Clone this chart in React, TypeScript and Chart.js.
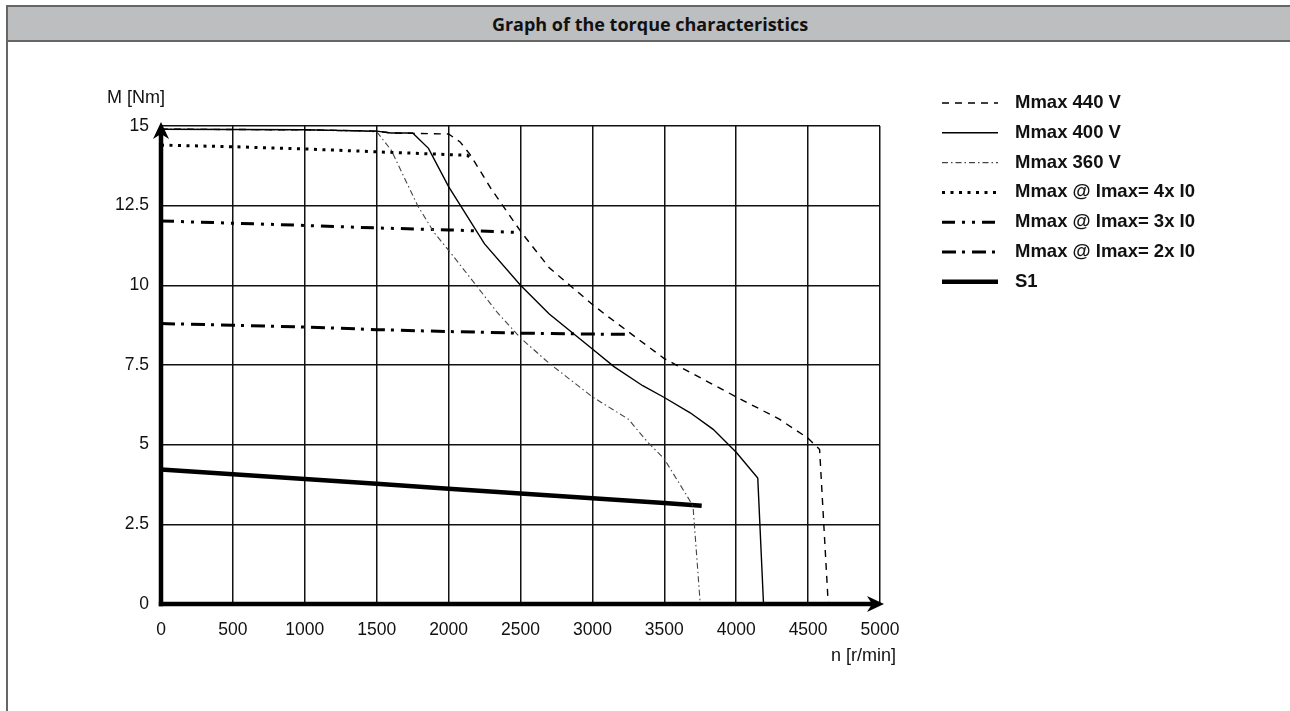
import React, { useEffect, useRef } from "react";
import { Chart, registerables } from "chart.js";

Chart.register(...registerables);

const titleText = "Graph of the torque characteristics";
const yAxisTitle = "M [Nm]";
const xAxisTitle = "n [r/min]";

const xTicks = [0, 500, 1000, 1500, 2000, 2500, 3000, 3500, 4000, 4500, 5000];
const yTicks = [0, 2.5, 5, 7.5, 10, 12.5, 15];

const seriesLabels = [
  "Mmax 440 V",
  "Mmax 400 V",
  "Mmax 360 V",
  "Mmax @ Imax= 4x I0",
  "Mmax @ Imax= 3x I0",
  "Mmax @ Imax= 2x I0",
  "S1",
];

const m440Speed = [0, 1000, 1500, 1600, 2000, 2080, 2150, 2300, 2500, 2700, 3000, 3100, 3500, 4000, 4300, 4500, 4580, 4640];
const m440Torque = [14.9, 14.88, 14.84, 14.78, 14.75, 14.5, 14.1, 13.0, 11.7, 10.55, 9.4, 9.05, 7.7, 6.5, 5.8, 5.2, 4.85, 0];

const m400Speed = [0, 1000, 1500, 1600, 1750, 1860, 2000, 2250, 2500, 2700, 3000, 3150, 3350, 3500, 3680, 3840, 4000, 4150, 4190];
const m400Torque = [14.9, 14.88, 14.84, 14.78, 14.78, 14.3, 13.1, 11.3, 10.0, 9.1, 8.0, 7.45, 6.85, 6.48, 6.0, 5.48, 4.76, 3.95, 0];

const m360Speed = [0, 1000, 1500, 1600, 1785, 1900, 2000, 2200, 2340, 2500, 2700, 3000, 3250, 3380, 3500, 3670, 3700, 3750];
const m360Torque = [14.9, 14.88, 14.82, 14.25, 12.5, 11.65, 11.1, 9.95, 9.14, 8.35, 7.55, 6.5, 5.8, 5.1, 4.55, 3.3, 3.05, 0];

const i4Speed = [0, 500, 1000, 1500, 2130, 2170];
const i4Torque = [14.4, 14.35, 14.28, 14.19, 14.08, 13.93];

const i3Speed = [0, 1000, 1500, 2000, 2480];
const i3Torque = [12.02, 11.88, 11.8, 11.74, 11.66];

const i2Speed = [0, 500, 1000, 1500, 2000, 2500, 3000, 3260];
const i2Torque = [8.8, 8.75, 8.69, 8.61, 8.55, 8.5, 8.47, 8.46];

const s1Speed = [0, 500, 1000, 1500, 2000, 2500, 3000, 3500, 3760];
const s1Torque = [4.22, 4.07, 3.92, 3.77, 3.62, 3.47, 3.32, 3.17, 3.08];

const toPoints = (xs: number[], ys: number[]) => xs.map((x, i) => ({ x, y: ys[i] }));

const TICK_FONT = "Liberation Sans, Arial, Helvetica, sans-serif";

const overlayPlugin = {
  id: "overlay",
  afterDraw(chart: any) {
    const { ctx, chartArea } = chart;
    const { left, right, top, bottom } = chartArea;
    ctx.save();
    ctx.setLineDash([]);
    ctx.strokeStyle = "#000";
    ctx.fillStyle = "#000";
    ctx.lineWidth = 4.5;
    ctx.lineCap = "butt";
    // y axis
    ctx.beginPath();
    ctx.moveTo(left, bottom + 2.2);
    ctx.lineTo(left, top + 6);
    ctx.stroke();
    // x axis
    ctx.beginPath();
    ctx.moveTo(left - 2.2, bottom);
    ctx.lineTo(right - 6, bottom);
    ctx.stroke();
    // arrowheads
    const tipY = top - 4;
    ctx.beginPath();
    ctx.moveTo(left, tipY);
    ctx.lineTo(left + 8, tipY + 17);
    ctx.lineTo(left, tipY + 12);
    ctx.lineTo(left - 8, tipY + 17);
    ctx.closePath();
    ctx.fill();
    const tipX = right + 4;
    ctx.beginPath();
    ctx.moveTo(tipX, bottom);
    ctx.lineTo(tipX - 17, bottom - 8);
    ctx.lineTo(tipX - 12, bottom);
    ctx.lineTo(tipX - 17, bottom + 8);
    ctx.closePath();
    ctx.fill();

    // axis titles
    ctx.font = `18px ${TICK_FONT}`;
    ctx.fillStyle = "#111";
    ctx.textBaseline = "middle";
    ctx.textAlign = "left";
    ctx.fillText(yAxisTitle, left - 54, top - 28);
    ctx.textAlign = "right";
    ctx.fillText(xAxisTitle, right + 16, bottom + 52);

    // legend
    const lx0 = 942;
    const lx1 = 998;
    const tx = 1015;
    const y0 = 103;
    const dy = 29.8;
    ctx.font = `bold 18.5px ${TICK_FONT}`;
    ctx.textAlign = "left";
    chart.data.datasets.forEach((ds: any, i: number) => {
      const y = y0 + i * dy;
      ctx.save();
      ctx.strokeStyle = ds.borderColor;
      ctx.lineWidth = ds.borderWidth;
      ctx.setLineDash(ds.borderDash || []);
      ctx.beginPath();
      ctx.moveTo(lx0, y);
      ctx.lineTo(lx1, y);
      ctx.stroke();
      ctx.restore();
      ctx.fillStyle = "#111";
      ctx.fillText(ds.label, tx, y);
    });
    ctx.restore();
  },
};

export default function App() {
  const canvasRef = useRef<HTMLCanvasElement | null>(null);

  useEffect(() => {
    if (!canvasRef.current) return;
    const mk = (i: number, xs: number[], ys: number[], color: string, width: number, dash: number[]) => ({
      label: seriesLabels[i],
      data: toPoints(xs, ys),
      borderColor: color,
      borderWidth: width,
      borderDash: dash,
      pointRadius: 0,
      fill: false,
      tension: 0,
    });
    const chart = new Chart(canvasRef.current, {
      type: "line",
      data: {
        datasets: [
          mk(0, m440Speed, m440Torque, "#000", 1.4, [7, 6]),
          mk(1, m400Speed, m400Torque, "#000", 1.4, []),
          mk(2, m360Speed, m360Torque, "#444", 1.1, [6, 3, 1.5, 3]),
          mk(3, i4Speed, i4Torque, "#000", 3, [3, 5.5]),
          mk(4, i3Speed, i3Torque, "#000", 3, [13, 7, 3, 7, 3, 7]),
          mk(5, i2Speed, i2Torque, "#000", 3, [14, 6, 3, 7]),
          mk(6, s1Speed, s1Torque, "#000", 4.5, []),
        ],
      },
      options: {
        responsive: false,
        animation: false,
        layout: { padding: { left: 0, right: 410, top: 126, bottom: 0 } },
        plugins: { legend: { display: false }, tooltip: { enabled: false } },
        scales: {
          x: {
            type: "linear",
            min: 0,
            max: 5000,
            afterBuildTicks: (scale: any) => {
              scale.ticks = xTicks.map((v) => ({ value: v }));
            },
            afterFit: (scale: any) => {
              scale.height = 107;
            },
            ticks: {
              font: { family: TICK_FONT, size: 17.5 },
              color: "#111",
              padding: 16,
              maxRotation: 0,
              autoSkip: false,
              callback: (v: any) => String(v),
            },
            grid: { color: "#111", lineWidth: 1.5, drawTicks: false },
            border: { display: false },
          },
          y: {
            type: "linear",
            min: 0,
            max: 15,
            afterBuildTicks: (scale: any) => {
              scale.ticks = yTicks.map((v) => ({ value: v }));
            },
            afterFit: (scale: any) => {
              scale.width = 161;
            },
            ticks: {
              font: { family: TICK_FONT, size: 17.5 },
              color: "#111",
              padding: 12,
              autoSkip: false,
              callback: (v: any) => String(v),
            },
            grid: { color: "#111", lineWidth: 1.5, drawTicks: false },
            border: { display: false },
          },
        },
      },
      plugins: [overlayPlugin],
    } as any);
    return () => chart.destroy();
  }, []);

  return (
    <div style={{ position: "fixed", left: 0, top: 0, width: 1290, height: 711, background: "#fff", overflow: "hidden" }}>
      <div
        style={{
          position: "absolute",
          left: 6,
          top: 5,
          width: 1400,
          height: 900,
          borderLeft: "2px solid #666",
          borderTop: "2px solid #666",
        }}
      />
      <div
        style={{
          position: "absolute",
          left: 8,
          top: 7,
          width: 1400,
          height: 33,
          background: "#bdbec0",
          borderBottom: "2px solid #666",
        }}
      />
      <div
        style={{
          position: "absolute",
          left: 8,
          top: 7,
          width: 1284,
          height: 33,
          display: "flex",
          alignItems: "center",
          justifyContent: "center",
          fontFamily: "'Open Sans', sans-serif",
          fontWeight: 700,
          fontSize: 18,
          color: "#111",
        }}
      >
        {titleText}
      </div>
      <canvas ref={canvasRef} width={1290} height={711} style={{ position: "absolute", left: 0, top: 0 }} />
    </div>
  );
}
